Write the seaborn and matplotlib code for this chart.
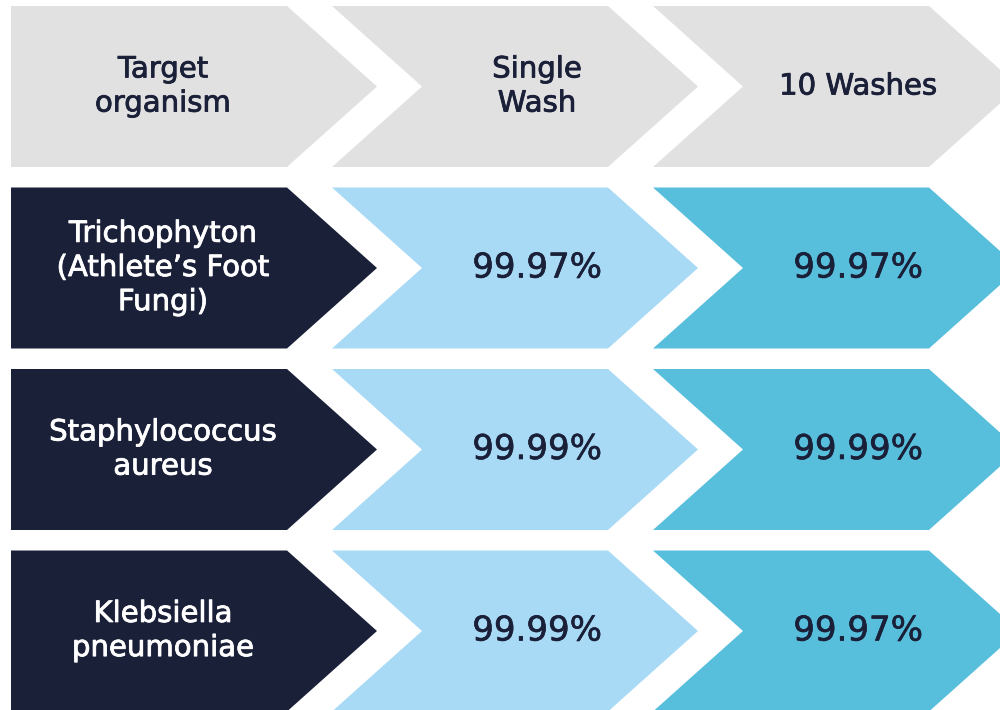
import numpy as np
import matplotlib
matplotlib.use("Agg")
import matplotlib.pyplot as plt
import matplotlib.patheffects as pe
from matplotlib.patches import Polygon
import seaborn as sns

sns.set_theme(style="white")
plt.rcParams['font.family'] = ['DejaVu Sans']

# data
headers = ["Target\norganism", "Single\nWash", "10 Washes"]
organisms = ["Trichophyton\n(Athlete’s Foot\nFungi)", "Staphylococcus\naureus", "Klebsiella\npneumoniae"]
single_wash = [99.97, 99.99, 99.99]
ten_washes = [99.97, 99.99, 99.97]

# colours
navy = "#1b2039"
header_grey = "#e1e1e1"
light_blue = "#a8daf6"
mid_blue = "#57bedc"

# geometry (pixel-like units)
col_left0, col_pitch, flat_w, depth = 11, 321, 276, 90
row_top0, row_pitch, row_h = 6, 181.5, 161


def chevron(ci, ri, color):
    x0 = col_left0 + ci * col_pitch
    y0 = row_top0 + ri * row_pitch
    y1 = y0 + row_h
    ym = (y0 + y1) / 2
    x1 = x0 + flat_w
    pts = [(x0, y0), (x1, y0), (x1 + depth, ym), (x1, y1), (x0, y1)]
    if ci > 0:
        pts.append((x0 + depth, ym))
    return Polygon(pts, closed=True, facecolor=color, edgecolor='none')


def text_pos(ci, ri):
    x0 = col_left0 + ci * col_pitch
    if ci == 0:
        xc = x0 + 152
    else:
        xc = x0 + 205
    yc = row_top0 + ri * row_pitch + row_h / 2
    return xc, yc


def heavier(color, lw):
    # thin outline in the text colour -> medium weight look
    return [pe.withStroke(linewidth=lw, foreground=color)]


fig = plt.figure(figsize=(10, 7.1), dpi=100)
ax = fig.add_axes([0, 0, 1, 1])
ax.set_xlim(0, 1000)
ax.set_ylim(710, 0)
ax.axis('off')

label_kw = dict(ha='center', va='center', fontsize=21, linespacing=1.28)
value_kw = dict(ha='center', va='center', color=navy, fontsize=24.5,
                path_effects=heavier(navy, 0.45))

# header row
for ci, h in enumerate(headers):
    ax.add_patch(chevron(ci, 0, header_grey))
    x, y = text_pos(ci, 0)
    ax.text(x, y, h, color=navy, path_effects=heavier(navy, 0.6), **label_kw)

# body rows
for ri, org in enumerate(organisms):
    r = ri + 1
    ax.add_patch(chevron(0, r, navy))
    x, y = text_pos(0, r)
    ax.text(x, y, org, color='white', path_effects=heavier('white', 0.6), **label_kw)

    ax.add_patch(chevron(1, r, light_blue))
    x, y = text_pos(1, r)
    ax.text(x, y, f"{single_wash[ri]:.2f}%", **value_kw)

    ax.add_patch(chevron(2, r, mid_blue))
    x, y = text_pos(2, r)
    ax.text(x, y, f"{ten_washes[ri]:.2f}%", **value_kw)

fig.savefig("out.png", dpi=100, facecolor='white')
